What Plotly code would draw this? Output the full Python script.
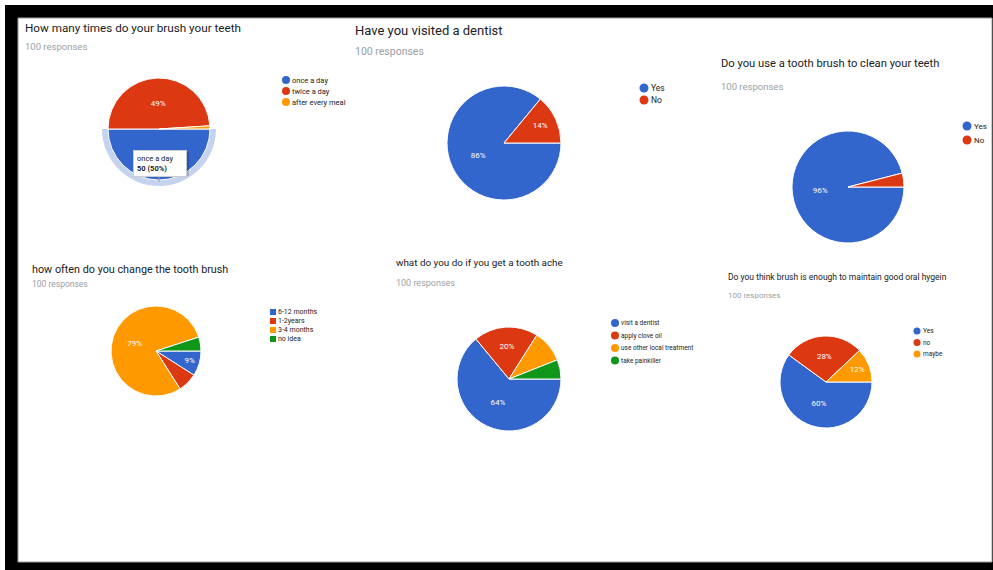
import plotly.graph_objects as go

W, H = 993, 570

BLUE, RED, ORANGE, GREEN = "#3366cc", "#dc3912", "#ff9900", "#109618"

# ---------------- data ----------------
q1_title = "How many times do your brush your teeth"
q1_labels = ["once a day", "twice a day", "after every meal"]
q1_values = [50, 49, 1]

q2_title = "Have you visited a dentist"
q2_labels = ["Yes", "No"]
q2_values = [86, 14]

q3_title = "Do you use a tooth brush to clean your teeth"
q3_labels = ["Yes", "No"]
q3_values = [96, 4]

q4_title = "how often do you change the tooth brush"
q4_labels = ["6-12 months", "1-2years", "3-4 months", "no idea"]
q4_values = [9, 7, 79, 5]

q5_title = "what do you do if you get a tooth ache"
q5_labels = ["visit a dentist", "apply clove oil", "use other local treatment", "take painkiller"]
q5_values = [64, 20, 10, 6]

q6_title = "Do you think brush is enough to maintain good oral hygein"
q6_labels = ["Yes", "no", "maybe"]
q6_values = [60, 28, 12]

responses = "100 responses"
palette = [BLUE, RED, ORANGE, GREEN]

# ---------------- layout helpers ----------------
def fx(x):
    return x / W


def fy(y):
    return 1 - y / H


PAD = 3  # annotation inner offset in pixels

charts = [
    dict(title=q1_title, labels=q1_labels, values=q1_values, cx=159, cy=129, r=51,
         tx=26, ty=28, tsize=11.7, sy=46, ssize=9.5,
         lx=286, ly=80, ldy=11, lsize=7.5, msize=8, label_min=5, hovered=0),
    dict(title=q2_title, labels=q2_labels, values=q2_values, cx=504, cy=143, r=57,
         tx=356, ty=31, tsize=13, sy=51, ssize=10.5,
         lx=644, ly=88, ldy=12, lsize=8.5, msize=9, label_min=5),
    dict(title=q3_title, labels=q3_labels, values=q3_values, cx=848, cy=187, r=56,
         tx=722, ty=63, tsize=11.2, sy=86, ssize=9.5,
         lx=967, ly=126, ldy=14, lsize=8, msize=9, label_min=5),
    dict(title=q4_title, labels=q4_labels, values=q4_values, cx=156, cy=351, r=45,
         tx=33, ty=269, tsize=10.8, sy=284, ssize=8.5,
         lx=273, ly=312, ldy=9, lsize=7, msize=6, label_min=8, square=True),
    dict(title=q5_title, labels=q5_labels, values=q5_values, cx=509, cy=379, r=52,
         tx=397, ty=262, tsize=9.9, sy=283, ssize=9,
         lx=615, ly=323, ldy=12.5, lsize=6.5, msize=8, label_min=11),
    dict(title=q6_title, labels=q6_labels, values=q6_values, cx=826, cy=382, r=46,
         tx=729, ty=277, tsize=8.5, sy=296, ssize=8,
         lx=917, ly=331, ldy=11.5, lsize=6.5, msize=7, label_min=5),
]

fig = go.Figure()
shapes = []
annotations = []

# frame
shapes.append(dict(type="rect", xref="paper", yref="paper", x0=fx(5), x1=fx(993),
                   y0=fy(570), y1=fy(5), fillcolor="black", line=dict(width=0), layer="below"))
shapes.append(dict(type="rect", xref="paper", yref="paper", x0=fx(18), x1=fx(992),
                   y0=fy(562), y1=fy(18), fillcolor="white",
                   line=dict(color="#9e9e9e", width=1), layer="below"))

# hover highlight ring on first chart
c0 = charts[0]
ring_r = c0["r"] + 6
fig.add_trace(go.Pie(
    labels=c0["labels"], values=c0["values"], sort=False, direction="clockwise",
    rotation=90, hole=0.8, textinfo="none", hoverinfo="skip", showlegend=False,
    marker=dict(colors=["#c5d3ef", "rgba(0,0,0,0)", "rgba(0,0,0,0)"], line=dict(width=0)),
    domain=dict(x=[fx(c0["cx"] - ring_r), fx(c0["cx"] + ring_r)],
                y=[fy(c0["cy"] + ring_r), fy(c0["cy"] - ring_r)]),
))

for c in charts:
    vals = c["values"]
    total = sum(vals)
    n = len(vals)
    texts = []
    for i, v in enumerate(vals):
        pct = 100 * v / total
        show = pct >= c["label_min"] and c.get("hovered") != i
        texts.append(f"{round(pct)}%" if show else "")
    r = c["r"]
    fig.add_trace(go.Pie(
        labels=c["labels"], values=vals, sort=False, direction="clockwise", rotation=90,
        text=texts, textinfo="text", textposition="inside", insidetextorientation="horizontal",
        textfont=dict(family="Roboto", size=8, color="white"),
        marker=dict(colors=palette[:n], line=dict(color="white", width=1)),
        showlegend=False, hoverinfo="label+value+percent",
        domain=dict(x=[fx(c["cx"] - r), fx(c["cx"] + r)],
                    y=[fy(c["cy"] + r), fy(c["cy"] - r)]),
    ))
    annotations.append(dict(text=c["title"], x=fx(c["tx"] - PAD), y=fy(c["ty"]), xref="paper",
                            yref="paper", xanchor="left", yanchor="middle", showarrow=False,
                            font=dict(family="Roboto", size=c["tsize"], color="#202124")))
    annotations.append(dict(text=responses, x=fx(c["tx"] - PAD), y=fy(c["sy"]), xref="paper",
                            yref="paper", xanchor="left", yanchor="middle", showarrow=False,
                            font=dict(family="Roboto", size=c["ssize"], color="#9aa0a6")))
    for i, lab in enumerate(c["labels"]):
        yy = c["ly"] + i * c["ldy"]
        m = c["msize"] / 2
        shapes.append(dict(type="rect" if c.get("square") else "circle",
                           xref="paper", yref="paper", xsizemode="pixel", ysizemode="pixel",
                           xanchor=fx(c["lx"]), yanchor=fy(yy), x0=-m, x1=m, y0=-m, y1=m,
                           fillcolor=palette[i], line=dict(width=0)))
        annotations.append(dict(text=lab, x=fx(c["lx"] + m + 3 - PAD), y=fy(yy), xref="paper",
                                yref="paper", xanchor="left", yanchor="middle",
                                showarrow=False,
                                font=dict(family="Roboto", size=c["lsize"], color="#222222")))

# tooltip of the hovered slice in first chart
tip_v = q1_values[0]
tip_p = round(100 * tip_v / sum(q1_values))
shapes.append(dict(type="rect", xref="paper", yref="paper", x0=fx(135), x1=fx(189),
                   y0=fy(176), y1=fy(152), fillcolor="rgba(0,0,0,0.18)", line=dict(width=0)))
shapes.append(dict(type="line", xref="paper", yref="paper", x0=fx(159), x1=fx(159),
                   y0=fy(182), y1=fy(175), line=dict(color="#9e9e9e", width=1)))
annotations.append(dict(
    text=f"{q1_labels[0]}<br><b>{tip_v} ({tip_p}%)</b>",
    x=fx(133), y=fy(150), xref="paper", yref="paper", xanchor="left", yanchor="top",
    showarrow=False, align="left", bgcolor="white", bordercolor="#cccccc", borderwidth=1,
    borderpad=3, width=46, font=dict(family="Roboto", size=7.5, color="#222222")))

fig.update_layout(
    width=W, height=H, margin=dict(l=0, r=0, t=0, b=0),
    paper_bgcolor="white", plot_bgcolor="white",
    shapes=shapes, annotations=annotations,
)

fig.write_html("out.html")
